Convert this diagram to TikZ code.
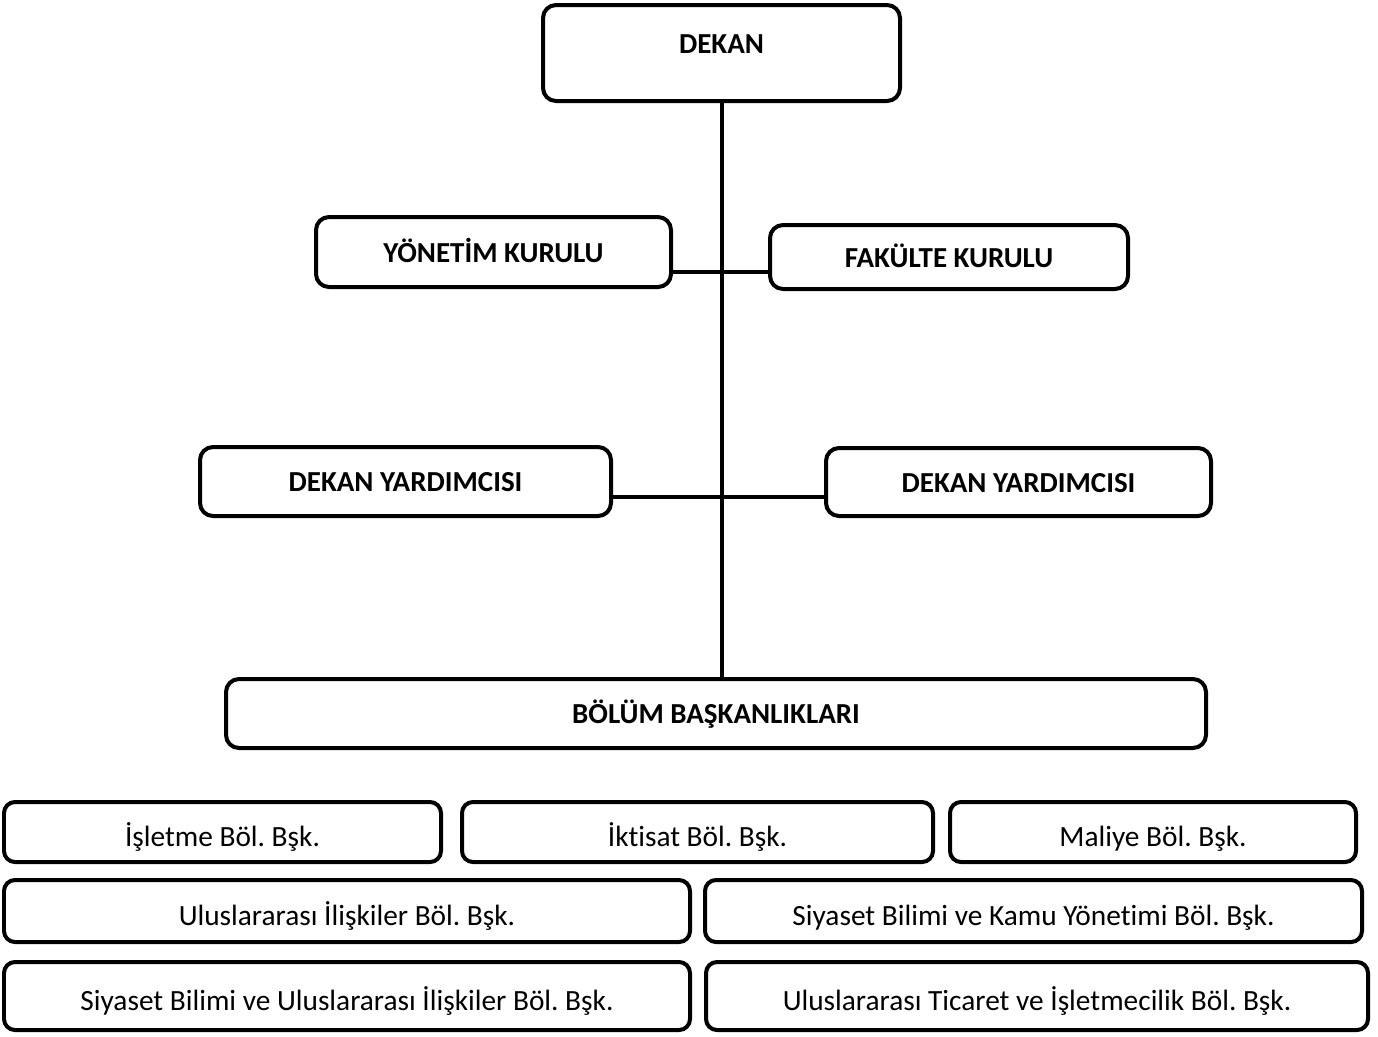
\documentclass[tikz,border=0pt]{standalone}
\usepackage{fontspec}
\setmainfont{Carlito}[Ligatures=NoCommon]
\frenchspacing
\begin{document}
\begin{tikzpicture}[x=0.02cm, y=-0.02cm, line join=round, line cap=round,
  font=\fontsize{16.7}{19}\selectfont,
  box/.style={draw, line width=0.08cm, rounded corners=0.26cm, inner sep=0pt, text height=11.5pt, text depth=0pt},
  unit/.style={box, rounded corners=0.22cm, text height=16pt},
  head/.style={font=\fontsize{16.5}{19}\selectfont\bfseries}]
\useasboundingbox (0,0) rectangle (1378,1036);
% upper levels
\node[box, minimum width=357*0.02cm, minimum height=96*0.02cm] (dekan) at (721.5,53) {};
\node[head] (dekanlbl) at (721.5,44) {DEKAN};
\node[box, head, minimum width=355*0.02cm, minimum height=70*0.02cm] (yk) at (493.5,252) {YÖNETİM KURULU};
\node[box, head, minimum width=358*0.02cm, minimum height=64*0.02cm] (fk) at (949,257) {FAKÜLTE KURULU};
\node[box, head, minimum width=411*0.02cm, minimum height=69*0.02cm] (dy1) at (405.5,481.5) {DEKAN YARDIMCISI};
\node[box, head, minimum width=385*0.02cm, minimum height=68*0.02cm] (dy2) at (1018.5,482) {DEKAN YARDIMCISI};
\node[box, head, minimum width=980*0.02cm, minimum height=69*0.02cm] (bb) at (716,713.5) {BÖLÜM BAŞKANLIKLARI};
\coordinate (hub1) at (722,272);
\coordinate (hub2) at (722,497);
\draw[line width=0.08cm] (dekan.south) -- (dekan.south |- bb.north);
\draw[line width=0.08cm] (yk.east |- hub1) -- (fk.west |- hub1);
\draw[line width=0.08cm] (dy1.east |- hub2) -- (dy2.west |- hub2);
% departments
\node[unit, minimum width=437*0.02cm, minimum height=60*0.02cm] (isl) at (222.5,832) {İşletme Böl. Bşk.};
\node[unit, minimum width=471*0.02cm, minimum height=60*0.02cm] (ikt) at (697.5,832) {İktisat Böl. Bşk.};
\node[unit, minimum width=406*0.02cm, minimum height=60*0.02cm] (mal) at (1153,832) {Maliye Böl. Bşk.};
\node[unit, minimum width=686*0.02cm, minimum height=62*0.02cm] (ui) at (347,911) {Uluslararası İlişkiler Böl. Bşk.};
\node[unit, minimum width=657*0.02cm, minimum height=62*0.02cm] (sbk) at (1033.5,911) {Siyaset Bilimi ve Kamu Yönetimi Böl. Bşk.};
\node[unit, minimum width=686*0.02cm, minimum height=68*0.02cm] (sbui) at (347,996) {Siyaset Bilimi ve Uluslararası İlişkiler Böl. Bşk.};
\node[unit, minimum width=662*0.02cm, minimum height=68*0.02cm] (uti) at (1037,996) {Uluslararası Ticaret ve İşletmecilik Böl. Bşk.};
\end{tikzpicture}
\end{document}
